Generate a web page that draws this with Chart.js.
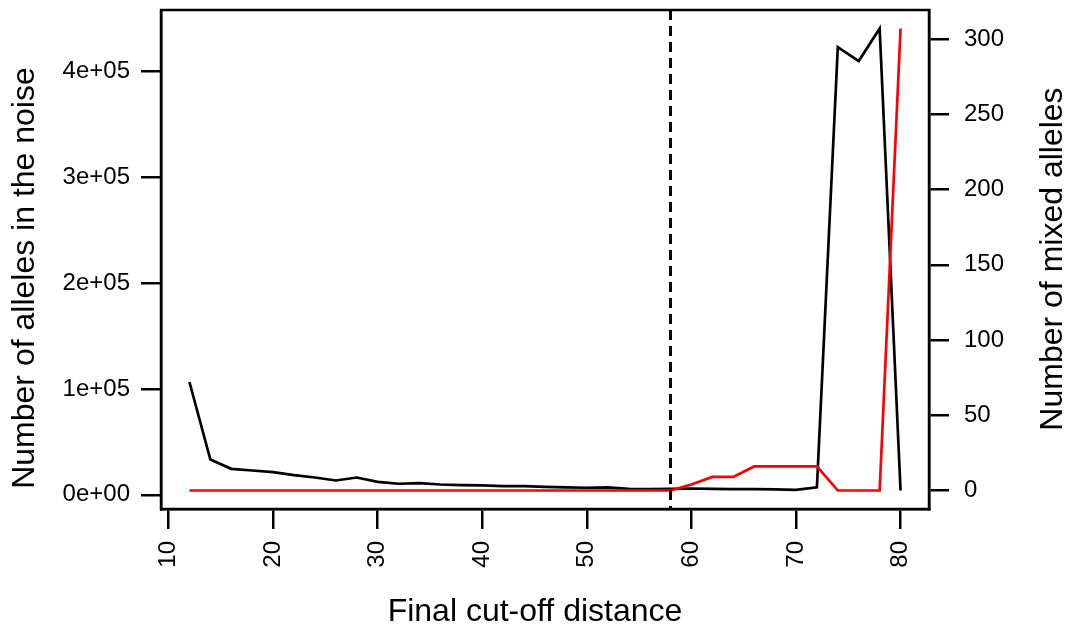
<!DOCTYPE html>
<html>
<head>
<meta charset="utf-8">
<script src="https://cdn.jsdelivr.net/npm/chart.js@4/dist/chart.umd.min.js"></script>
<style>
    body { margin: 0; background: #fff; }
    canvas { display: block; }
</style>
</head>
<body>
<canvas id="cutoff-chart" width="1067" height="633"></canvas>
<script>
const distance = [12, 14, 16, 18, 20, 22, 24, 26, 28, 30, 32, 34, 36, 38, 40, 42, 44, 46,
    48, 50, 52, 54, 56, 58, 60, 62, 64, 66, 68, 70, 72, 74, 76, 78, 80];
const noiseAlleles = [106500, 33300, 24500, 22900, 21300, 18500, 16300, 13500, 16300, 12200,
    10400, 11000, 9700, 9100, 8800, 8100, 8100, 7500, 6900, 6600, 6900, 5600, 5300, 5600,
    5900, 5600, 5300, 5300, 5000, 4700, 7000, 422900, 409700, 440500, 4000];
const mixedAlleles = [0, 0, 0, 0, 0, 0, 0, 0, 0, 0, 0, 0, 0, 0, 0, 0, 0, 0, 0, 0, 0, 0, 0, 0,
    4, 9, 9, 16, 16, 16, 16, 0, 0, 0, 307];
const cutoff = 58;

const xTicks = [10, 20, 30, 40, 50, 60, 70, 80];
const leftTicks = [0, 100000, 200000, 300000, 400000];
const leftTickLabels = ['0e+00', '1e+05', '2e+05', '3e+05', '4e+05'];
const rightTicks = [0, 50, 100, 150, 200, 250, 300];

const FONT = 'Liberation Sans, Arial, Helvetica, sans-serif';

// same 4% extension R uses for its axis ranges
function paddedRange(values) {
    const min = Math.min(...values);
    const max = Math.max(...values);
    const pad = (max - min) * 0.04;
    return { min: min - pad, max: max + pad };
}

function fixedTicks(values) {
    return function (axis) {
        axis.ticks = values.map(v => ({ value: v }));
    };
}

function fixSize(prop, size) {
    return function (axis) {
        axis[prop] = size;
        axis.paddingTop = 0;
        axis.paddingBottom = 0;
        axis.paddingLeft = 0;
        axis.paddingRight = 0;
    };
}

function drawText(ctx, text, x, y, angle) {
    ctx.save();
    ctx.translate(x, y);
    ctx.rotate(angle);
    ctx.fillText(text, 0, 0);
    ctx.restore();
}

const boxPlugin = {
    id: 'box',
    afterDatasetsDraw(chart) {
        const ctx = chart.ctx;
        const area = chart.chartArea;
        const x = chart.scales.x.getPixelForValue(cutoff);
        ctx.save();
        ctx.beginPath();
        ctx.rect(area.left, area.top, area.right - area.left, area.bottom - area.top);
        ctx.clip();
        ctx.strokeStyle = '#000';
        ctx.lineWidth = 3;
        ctx.setLineDash([10, 6]);
        ctx.beginPath();
        ctx.moveTo(x, area.top);
        ctx.lineTo(x, area.bottom);
        ctx.stroke();
        ctx.restore();

        ctx.save();
        ctx.strokeStyle = '#000';
        ctx.lineWidth = 2.5;
        ctx.strokeRect(area.left, area.top, area.right - area.left, area.bottom - area.top);
        ctx.fillStyle = '#000';
        ctx.font = '32px ' + FONT;
        ctx.textAlign = 'center';
        ctx.textBaseline = 'middle';
        drawText(ctx, 'Final cut-off distance', 535, 612, 0);
        drawText(ctx, 'Number of alleles in the noise', 25, 278, -Math.PI / 2);
        drawText(ctx, 'Number of mixed alleles', 1053, 259, -Math.PI / 2);
        ctx.restore();
    }
};

const xRange = paddedRange(distance);
const leftRange = paddedRange(noiseAlleles);
const rightRange = paddedRange(mixedAlleles);

const tickGrid = {
    drawOnChartArea: false,
    tickLength: 20,
    color: '#000',
    lineWidth: 2.5
};

const ctx = document.getElementById('cutoff-chart').getContext('2d');
new Chart(ctx, {
    type: 'line',
    data: {
        datasets: [{
            label: 'Number of alleles in the noise',
            data: distance.map((d, i) => ({ x: d, y: noiseAlleles[i] })),
            yAxisID: 'y',
            borderColor: '#000',
            borderWidth: 2.7,
            pointRadius: 0,
            tension: 0,
            order: 2
        }, {
            label: 'Number of mixed alleles',
            data: distance.map((d, i) => ({ x: d, y: mixedAlleles[i] })),
            yAxisID: 'y2',
            borderColor: '#ff0000',
            borderWidth: 2.7,
            pointRadius: 0,
            tension: 0,
            order: 1
        }]
    },
    options: {
        responsive: false,
        animation: false,
        layout: { padding: { top: 10, left: 0, right: 0, bottom: 0 } },
        plugins: {
            legend: { display: false },
            tooltip: { enabled: false }
        },
        scales: {
            x: {
                type: 'linear',
                position: 'bottom',
                min: xRange.min,
                max: xRange.max,
                afterBuildTicks: fixedTicks(xTicks),
                afterFit: fixSize('height', 124),
                grid: tickGrid,
                border: { color: '#000', width: 2.5 },
                ticks: {
                    color: '#000',
                    font: { family: FONT, size: 24 },
                    padding: 12,
                    minRotation: 90,
                    maxRotation: 90
                }
            },
            y: {
                position: 'left',
                min: leftRange.min,
                max: leftRange.max,
                afterBuildTicks: fixedTicks(leftTicks),
                afterFit: fixSize('width', 161),
                grid: tickGrid,
                border: { color: '#000', width: 2.5 },
                ticks: {
                    color: '#000',
                    font: { family: FONT, size: 24 },
                    padding: 11,
                    callback: value => leftTickLabels[leftTicks.indexOf(value)]
                }
            },
            y2: {
                position: 'right',
                min: rightRange.min,
                max: rightRange.max,
                afterBuildTicks: fixedTicks(rightTicks),
                afterFit: fixSize('width', 138),
                grid: tickGrid,
                border: { color: '#000', width: 2.5 },
                ticks: {
                    color: '#000',
                    font: { family: FONT, size: 24 },
                    padding: 15
                }
            }
        }
    },
    plugins: [boxPlugin]
});
</script>
</body>
</html>
